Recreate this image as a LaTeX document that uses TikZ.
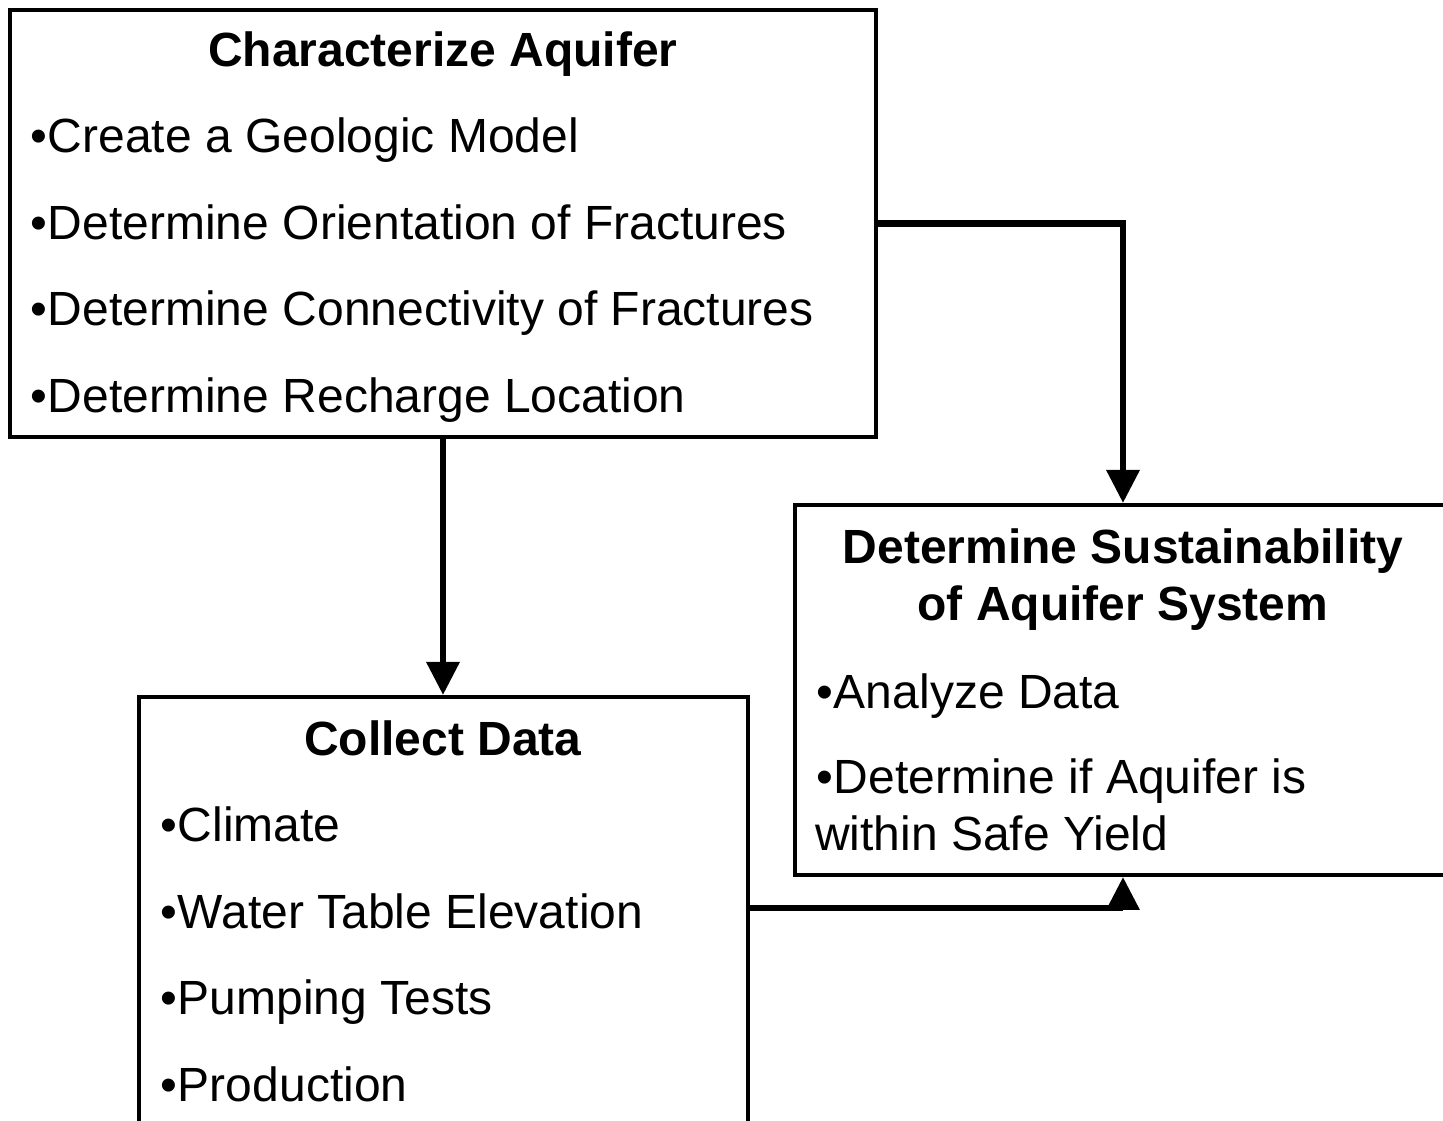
\documentclass[tikz,border=0pt]{standalone}
\usepackage{fontspec}
\setmainfont{Liberation Sans}
\usetikzlibrary{arrows.meta}

\begin{document}
\begin{tikzpicture}[x=1pt,y=1pt,
    box/.style={draw=black, line width=4pt, fill=white, inner sep=0pt, minimum width=#1},
    head/.style={anchor=base, inner sep=0pt, font=\fontsize{48}{57.6}\selectfont\bfseries},
    item/.style={anchor=base west, inner sep=0pt, font=\fontsize{48}{57.6}\selectfont},
    arr/.style={line width=6.5pt, -{Triangle[length=33pt,width=32pt]}}]
  \useasboundingbox (0,0) rectangle (1443,1121);
  \clip (0,0) rectangle (1443,1121);

  % boxes
  \node[box=866pt, minimum height=427pt] (ca) at (443,897.5) {};
  \node[box=609pt, minimum height=443pt] (cd) at (443,202.5) {};
  \node[box=656pt, minimum height=370pt] (ds) at (1123,431) {};

  % Characterize Aquifer
  \node[head] (caT) at (443,1054) {Characterize Aquifer};
  \node[item] (ca1) at (30,968) {•\kern1pt Create a Geologic Model};
  \node[item] (ca2) at (30,881) {•\kern1pt Determine Orientation of Fractures};
  \node[item] (ca3) at (30,795) {•\kern1pt Determine Connectivity of Fractures};
  \node[item] (ca4) at (30,708) {•\kern1pt Determine Recharge Location};

  % Collect Data
  \node[head] (cdT) at (443,365) {Collect Data};
  \node[item] (cd1) at (160,279) {•\kern1pt Climate};
  \node[item] (cd2) at (160,192) {•\kern1pt Water Table Elevation};
  \node[item] (cd3) at (160,106) {•\kern1pt Pumping Tests};
  \node[item] (cd4) at (160,19) {•\kern1pt Production};

  % Determine Sustainability
  \node[head] (dsT1) at (1123,557) {Determine Sustainability};
  \node[head] (dsT2) at (1123,500) {of Aquifer System};
  \node[item] (ds1) at (816,412) {•\kern1pt Analyze Data};
  \node[item] (ds2) at (816,327) {•\kern1pt Determine if Aquifer is};
  \node[item] (ds3) at (815,270) {within Safe Yield};

  % connectors
  \draw[arr] (ca.south) -- (cd.north);
  \draw[arr] (ca.east) -| (ds.north);
  \draw[arr] ([yshift=-213pt]cd.north east) -| (ds.south);
\end{tikzpicture}
\end{document}
